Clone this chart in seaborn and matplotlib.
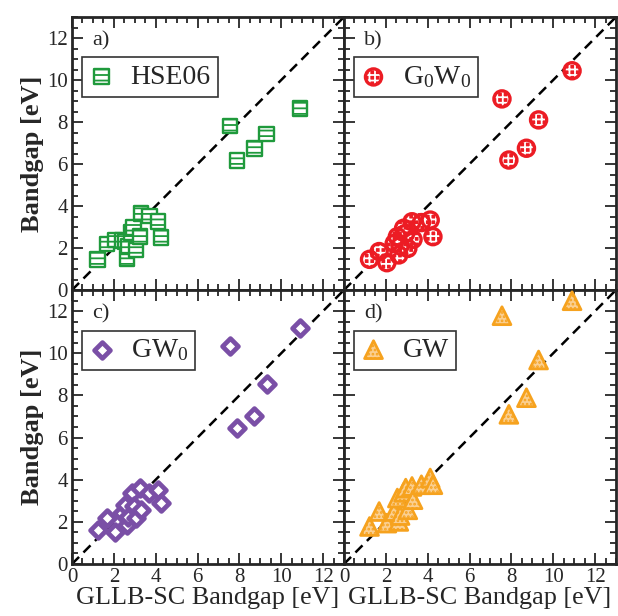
import numpy as np
import pandas as pd
import matplotlib.pyplot as plt
import seaborn as sns
from matplotlib.ticker import MultipleLocator

# GLLB-SC bandgaps (x) shared by all panels, eV
gllb = [1.22, 1.68, 2.05, 2.40, 2.55, 2.62, 2.68, 2.85, 2.95, 3.05,
        3.25, 3.30, 3.70, 4.12, 4.25, 7.55, 7.88, 8.72, 9.30, 10.90]
# reference bandgaps (y) per method, eV
hse06 = [1.46, 2.19, 2.38, 2.35, 2.30, 1.51, 2.06, 2.73, 2.98, 1.90,
         2.54, 3.65, 3.52, 3.25, 2.51, 7.81, 6.16, 6.75, 7.43, 8.65]
g0w0 = [1.46, 1.83, 1.30, 2.22, 2.54, 1.67, 2.10, 2.94, 2.70, 1.98,
        3.25, 2.41, 3.21, 3.33, 2.54, 9.10, 6.19, 6.75, 8.10, 10.44]
gw0 = [1.62, 2.17, 1.54, 2.41, 2.81, 1.86, 2.25, 3.37, 2.75, 2.17,
       3.60, 2.57, 3.37, 3.52, 2.89, 10.35, 6.46, 7.01, 8.52, 11.22]
gw = [1.78, 2.49, 1.94, 2.49, 3.13, 2.02, 2.30, 3.40, 3.60, 2.57,
      3.68, 3.05, 3.76, 4.08, 3.76, 11.78, 7.10, 7.89, 9.68, 12.49]

panel_tags = ["a)", "b)", "c)", "d)"]
method_names = ["HSE06", "G$_0$W$_0$", "GW$_0$", "GW"]

sns.set_style("ticks")
plt.rcParams['font.family'] = ['Liberation Serif', 'DejaVu Serif']
plt.rcParams['mathtext.fontset'] = 'custom'
plt.rcParams['mathtext.rm'] = 'Liberation Serif'
plt.rcParams['mathtext.default'] = 'regular'
plt.rcParams['hatch.linewidth'] = 1.3

fig = plt.figure(figsize=(6.18, 6.16), dpi=100)
W, H = 618, 616
ax_a = fig.add_axes([72 / W, 326 / H, 272 / W, 273 / H])
ax_b = fig.add_axes([344 / W, 326 / H, 272 / W, 273 / H])
ax_c = fig.add_axes([72 / W, 52 / H, 272 / W, 274 / H])
ax_d = fig.add_axes([344 / W, 52 / H, 272 / W, 274 / H])
axes = [ax_a, ax_b, ax_c, ax_d]

green, red, purple, orange = "#1f9a3c", "#ec1c24", "#7a4fa6", "#f6a21e"

# a) HSE06: open squares with horizontal hatching
df = pd.DataFrame({"x": gllb, "y": hse06})
sns.scatterplot(data=df, x="x", y="y", ax=ax_a, marker="s", s=110,
                color="white", edgecolor=green, linewidth=1.7, hatch="---",
                legend=False, zorder=3)
h_a = [ax_a.collections[-1]]

# b) G0W0: red circles with white checker
df = pd.DataFrame({"x": gllb, "y": g0w0})
sns.scatterplot(data=df, x="x", y="y", ax=ax_b, marker="o", s=135,
                color=red, edgecolor="white", linewidth=0, hatch="+++",
                legend=False, zorder=3)
sns.scatterplot(data=df, x="x", y="y", ax=ax_b, marker="o", s=135,
                color=red, facecolor="none", edgecolor=red, linewidth=2.4,
                legend=False, zorder=4)
h_b = [tuple(ax_b.collections[-2:])]

# c) GW0: thick purple diamonds
df = pd.DataFrame({"x": gllb, "y": gw0})
sns.scatterplot(data=df, x="x", y="y", ax=ax_c, marker="D", s=65,
                color="white", edgecolor=purple, linewidth=3.4,
                legend=False, zorder=3)
h_c = [ax_c.collections[-1]]

# d) GW: orange triangles
df = pd.DataFrame({"x": gllb, "y": gw})
sns.scatterplot(data=df, x="x", y="y", ax=ax_d, marker="^", s=165,
                color="#fbcf90", edgecolor=orange, linewidth=2.0, hatch="....",
                legend=False, zorder=3)
h_d = [ax_d.collections[-1]]

handles = [h_a, h_b, h_c, h_d]

for i, ax in enumerate(axes):
    ax.plot([0, 13], [0, 13], color="black", ls=(0, (4, 2.5)), lw=1.8, zorder=2)
    ax.set_xlim(0, 13)
    ax.set_ylim(0, 13)
    ax.xaxis.set_major_locator(MultipleLocator(2))
    ax.yaxis.set_major_locator(MultipleLocator(2))
    ax.xaxis.set_minor_locator(MultipleLocator(0.5))
    ax.yaxis.set_minor_locator(MultipleLocator(0.5))
    ax.tick_params(which="both", direction="in", top=True, right=True,
                   labelsize=15, width=1.3, pad=3)
    ax.tick_params(which="major", length=8)
    ax.tick_params(which="minor", length=4)
    for sp in ax.spines.values():
        sp.set_linewidth(2)
    ax.set_xlabel("")
    ax.set_ylabel("")
    if i in (0, 1):
        ax.tick_params(labelbottom=False)
    else:
        ax.set_xlabel("GLLB-SC Bandgap [eV]", fontsize=18.8, labelpad=0)
    if i in (1, 3):
        ax.tick_params(labelleft=False)
    else:
        ax.set_ylabel("Bandgap [eV]", fontsize=19, fontweight="bold", labelpad=2)
    ax.text(0.075, 0.912, panel_tags[i], transform=ax.transAxes,
            fontsize=16, va="center", ha="left")
    leg = ax.legend(handles[i], [method_names[i]], loc="upper left",
                    bbox_to_anchor=(0.037, 0.852), borderaxespad=0,
                    fontsize=20, frameon=True, fancybox=False, framealpha=1,
                    edgecolor="#333333", handlelength=0.9, handletextpad=0.6,
                    borderpad=0.25, scatterpoints=1)
    leg.get_frame().set_linewidth(1.2)

fig.savefig("out.png", dpi=100)
